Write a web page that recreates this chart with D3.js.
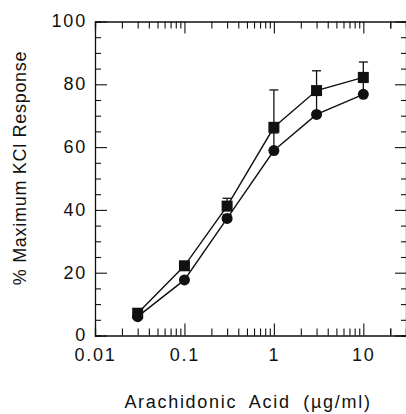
<!DOCTYPE html>
<html>
<head>
<meta charset="utf-8">
<script src="https://cdn.jsdelivr.net/npm/d3@7"></script>
<style>
  html, body { margin: 0; padding: 0; background: #fff; }
  svg { display: block; }
  text { font-family: "Liberation Sans", Arial, Helvetica, sans-serif; fill: #111; }
</style>
</head>
<body>
<div id="chart"></div>
<script>
// concentrations (µg/ml)
const doses = [0.03, 0.1, 0.3, 1, 3, 10]
// squares (upper curve) and circles (lower curve), % of max KCl response
const squareMean = [7.1, 22.2, 41.2, 66.3, 78.0, 82.2]
const squareUpper = [7.1, 22.2, 43.7, 78.2, 84.3, 87.1]
const circleMean = [6.0, 17.7, 37.3, 58.9, 70.4, 76.8]
const circleUpper = [6.0, 17.7, 38.5, 64.5, 76.5, 80.6]

const xMajor = [0.01, 0.1, 1, 10]
const xMajorLabels = ['0.01', '0.1', '1', '10']
const yMajor = [0, 20, 40, 60, 80, 100]
const yMinor = d3.range(5, 100, 5).filter(v => v % 20 !== 0)
const xMinor = [0.01, 0.1, 1, 10]
  .flatMap(d => d3.range(2, 10).map(k => +(k * d).toPrecision(2)))
  .concat([20])

const width = 406, height = 414
const margin = { top: 21.5, right: 0, bottom: 78.5, left: 95 }

const svg = d3.select('#chart')
  .append('svg')
  .attr('width', width)
  .attr('height', height)

const x = d3.scaleLog()
  .domain([0.01, 30])
  .range([margin.left, width - margin.right])

const y = d3.scaleLinear()
  .domain([0, 100])
  .range([height - margin.bottom, margin.top])

const axes = svg.append('g').attr('class', 'axes')

const styleAxis = g => {
  g.select('.domain').attr('stroke', '#111').attr('stroke-width', 1.3)
  g.selectAll('.tick line').attr('stroke', '#111').attr('stroke-width', 1.1)
  g.selectAll('.tick text')
    .attr('font-size', 18)
    .attr('letter-spacing', 1.8)
    .attr('fill', '#111')
    .attr('font-family', '"Liberation Sans", Arial, sans-serif')
}

// bottom
axes.append('g')
  .attr('transform', `translate(0,${y(0)})`)
  .call(d3.axisBottom(x).tickValues(xMinor).tickSize(-7).tickFormat(''))
  .call(styleAxis)
axes.append('g')
  .attr('transform', `translate(0,${y(0)})`)
  .call(d3.axisBottom(x).tickValues(xMajor).tickSize(-12).tickPadding(13)
    .tickFormat((d, i) => xMajorLabels[i]))
  .call(styleAxis)
  .call(g => g.select('.domain').remove())

// top
axes.append('g')
  .attr('transform', `translate(0,${y(100)})`)
  .call(d3.axisTop(x).tickValues(xMinor).tickSize(-7).tickFormat(''))
  .call(styleAxis)
axes.append('g')
  .attr('transform', `translate(0,${y(100)})`)
  .call(d3.axisTop(x).tickValues(xMajor).tickSize(-12).tickFormat(''))
  .call(styleAxis)
  .call(g => g.select('.domain').remove())

// left
axes.append('g')
  .attr('transform', `translate(${x(0.01)},0)`)
  .call(d3.axisLeft(y).tickValues(yMinor).tickSize(-6).tickFormat(''))
  .call(styleAxis)
axes.append('g')
  .attr('transform', `translate(${x(0.01)},0)`)
  .call(d3.axisLeft(y).tickValues(yMajor).tickSize(-12).tickPadding(8).tickFormat(d3.format('d')))
  .call(styleAxis)
  .call(g => g.select('.domain').remove())
  .call(g => g.selectAll('.tick text').attr('dy', '0.3em'))

// right
axes.append('g')
  .attr('transform', `translate(${x(30)},0)`)
  .call(d3.axisRight(y).tickValues(yMinor).tickSize(-5).tickFormat(''))
  .call(styleAxis)
axes.append('g')
  .attr('transform', `translate(${x(30)},0)`)
  .call(d3.axisRight(y).tickValues(yMajor).tickSize(-11).tickFormat(''))
  .call(styleAxis)
  .call(g => g.select('.domain').remove())

// axis titles
svg.append('text')
  .attr('x', 248)
  .attr('y', 408)
  .attr('text-anchor', 'middle')
  .attr('font-size', 18)
  .attr('letter-spacing', 1.7)
  .attr('word-spacing', 6)
  .text('Arachidonic Acid (µg/ml)')

svg.append('text')
  .attr('transform', `translate(26,${168}) rotate(-90)`)
  .attr('text-anchor', 'middle')
  .attr('font-size', 18)
  .attr('letter-spacing', 0.7)
  .text('% Maximum KCl Response')

// error bars
const errors = svg.append('g').attr('class', 'errors')
  .attr('stroke', '#111')
  .attr('stroke-width', 1.3)

const drawErrors = (mean, upper) => {
  const rows = doses.map((d, i) => ({ d, m: mean[i], u: upper[i] }))
    .filter(r => r.u - r.m > 0.5)
  errors.selectAll(null).data(rows).join('line')
    .attr('x1', r => x(r.d)).attr('x2', r => x(r.d))
    .attr('y1', r => y(r.m)).attr('y2', r => y(r.u))
  errors.selectAll(null).data(rows).join('line')
    .attr('x1', r => x(r.d) - 4.5).attr('x2', r => x(r.d) + 4.5)
    .attr('y1', r => y(r.u)).attr('y2', r => y(r.u))
}
drawErrors(circleMean, circleUpper)
drawErrors(squareMean, squareUpper)

// lines
const line = d3.line()
  .x(([d]) => x(d))
  .y(([, v]) => y(v))

const lines = svg.append('g').attr('class', 'lines')
  .attr('fill', 'none')
  .attr('stroke', '#111')
  .attr('stroke-width', 1.4)

lines.selectAll('path')
  .data([squareMean, circleMean])
  .join('path')
  .attr('d', vals => line(doses.map((d, i) => [d, vals[i]])))

// markers
const marks = svg.append('g').attr('class', 'marks').attr('fill', '#111')

marks.selectAll('rect')
  .data(doses.map((d, i) => [d, squareMean[i]]))
  .join('rect')
  .attr('x', ([d]) => x(d) - 5.5)
  .attr('y', ([, v]) => y(v) - 5.5)
  .attr('width', 11)
  .attr('height', 11)

marks.selectAll('circle')
  .data(doses.map((d, i) => [d, circleMean[i]]))
  .join('circle')
  .attr('cx', ([d]) => x(d))
  .attr('cy', ([, v]) => y(v))
  .attr('r', 5.5)
</script>
</body>
</html>
